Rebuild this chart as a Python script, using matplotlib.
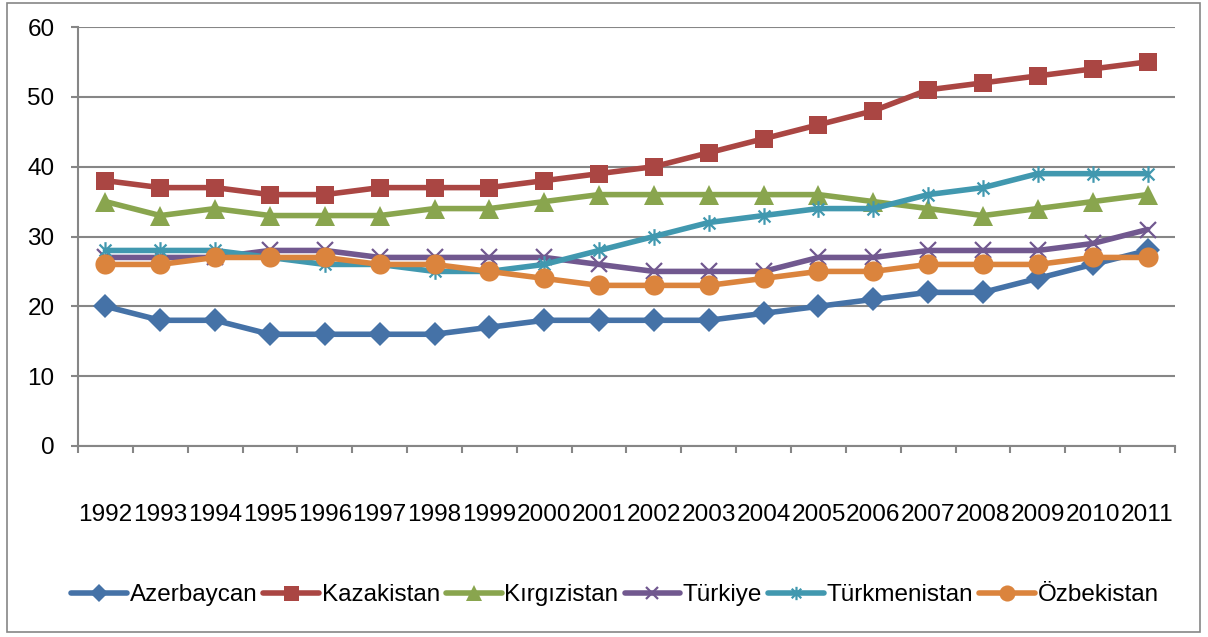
import matplotlib
matplotlib.use("Agg")
import matplotlib.pyplot as plt
from matplotlib.path import Path
from matplotlib.patches import Rectangle
import numpy as np

years = [str(y) for y in range(1992, 2012)]
azerbaycan = [20, 18, 18, 16, 16, 16, 16, 17, 18, 18, 18, 18, 19, 20, 21, 22, 22, 24, 26, 28]
kazakistan = [38, 37, 37, 36, 36, 37, 37, 37, 38, 39, 40, 42, 44, 46, 48, 51, 52, 53, 54, 55]
kirgizistan = [35, 33, 34, 33, 33, 33, 34, 34, 35, 36, 36, 36, 36, 36, 35, 34, 33, 34, 35, 36]
turkiye = [27, 27, 27, 28, 28, 27, 27, 27, 27, 26, 25, 25, 25, 27, 27, 28, 28, 28, 29, 31]
turkmenistan = [28, 28, 28, 27, 26, 26, 25, 25, 26, 28, 30, 32, 33, 34, 34, 36, 37, 39, 39, 39]
ozbekistan = [26, 26, 27, 27, 27, 26, 26, 25, 24, 23, 23, 23, 24, 25, 25, 26, 26, 26, 27, 27]
yticks = [0, 10, 20, 30, 40, 50, 60]

plt.rcParams['font.family'] = ['Liberation Sans', 'DejaVu Sans']

star = Path([(-1, -1), (1, 1), (-1, 1), (1, -1), (0, -1.4), (0, 1.4)],
            [Path.MOVETO, Path.LINETO, Path.MOVETO, Path.LINETO, Path.MOVETO, Path.LINETO])

series = [
    ("Azerbaycan", azerbaycan, "#4572A7", "D", 12),
    ("Kazakistan", kazakistan, "#AA4643", "s", 13.5),
    ("Kırgızistan", kirgizistan, "#89A54E", "^", 14.5),
    ("Türkiye", turkiye, "#71588F", "x", 11.5),
    ("Türkmenistan", turkmenistan, "#4198AF", star, 12),
    ("Özbekistan", ozbekistan, "#DB843D", "o", 14.5),
]

fig = plt.figure(figsize=(12.08, 6.37), dpi=100)
ax = fig.add_axes([78/1208, 1-446/637, (1175-78)/1208, (446-27)/637])

x = np.arange(len(years))
for name, vals, col, mk, ms in series:
    kw = dict(color=col, lw=4.0, marker=mk, markersize=ms, label=name, solid_capstyle='round')
    if mk == "x" or mk is star:
        kw.update(markeredgewidth=1.6, markerfacecolor='none', markeredgecolor=col)
    else:
        kw.update(markeredgewidth=0, markerfacecolor=col)
    ax.plot(x, vals, **kw)

gray = "#868686"
ax.set_xlim(-0.5, len(years) - 0.5)
ax.set_ylim(0, 60)
ax.set_yticks(yticks)
ax.set_yticklabels([str(v) for v in yticks])
ax.yaxis.grid(True, color=gray, lw=1.5)
ax.set_axisbelow(True)
for s in ("top", "right"):
    ax.spines[s].set_visible(False)
for s in ("left", "bottom"):
    ax.spines[s].set_color(gray)
    ax.spines[s].set_linewidth(1.5)

ax.set_xticks(np.arange(-0.5, len(years), 1.0))
ax.set_xticklabels([])
ax.set_xticks(x, minor=True)
ax.set_xticklabels(years, minor=True)
ax.tick_params(axis='x', which='major', length=5, width=1.5, color=gray)
ax.tick_params(axis='x', which='minor', length=0, pad=42, labelsize=17.6)
ax.tick_params(axis='y', length=5, width=1.5, color=gray, labelsize=17.5, pad=12)

leg = fig.legend(loc='center', bbox_to_anchor=(615/1208, 1-595/637), ncol=6, frameon=False,
                 fontsize=17.5, handlelength=2.3, handletextpad=0.1, columnspacing=0.25,
                 borderaxespad=0, markerscale=0.8)

fig.patches.append(Rectangle((7/1208, 1-632/637), 1193/1208, 629/637, transform=fig.transFigure,
                             fill=False, edgecolor=gray, lw=1.2))

fig.savefig("out.png", dpi=100)
